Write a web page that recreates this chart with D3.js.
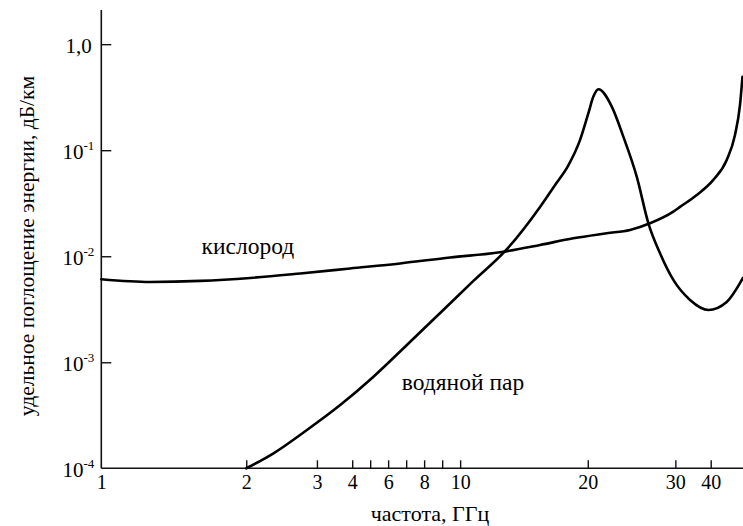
<!DOCTYPE html>
<html><head><meta charset="utf-8">
<script src="https://cdn.jsdelivr.net/npm/d3@7"></script>
<style>
body{margin:0;background:#fff}
svg{display:block}
text{font-family:"Liberation Serif","DejaVu Serif",serif;fill:#000}
</style>
</head><body><svg id="c" width="743" height="526"></svg>
<script>
// ---- data ----
const xTickValues = [1, 2, 3, 4, 5, 6, 7, 8, 9, 10, 20, 30, 40];
const xTickLabels = ["1", "2", "3", "4", "", "6", "", "8", "", "10", "20", "30", "40"];
const yTickValues = [1e-4, 1e-3, 1e-2, 1e-1, 1];
const yTickBase = ["10", "10", "10", "10", "1,0"];
const yTickExp = ["-4", "-3", "-2", "-1", ""];

const oxygenFreq  = [1.0, 1.338, 1.683, 2.057, 2.764, 3.943, 6.667, 9.444, 13.13, 16.26, 18.87, 22.17, 24.83, 27.11, 29.77, 31.33, 36.05, 40.73, 44.52, 46.86, 48.28, 48.98];
const oxygenValue = [0.00607, 0.00572, 0.00585, 0.00624, 0.00688, 0.00767, 0.00855, 0.00974, 0.01091, 0.01278, 0.01478, 0.01648, 0.0177, 0.02047, 0.02635, 0.02917, 0.03784, 0.05246, 0.0809, 0.1393, 0.2673, 0.4914];

const vaporFreq  = [2.0, 2.386, 2.859, 3.66, 5.183, 7.039, 8.889, 11.04, 13.68, 16.26, 17.44, 18.457, 19.397, 20.07, 20.64, 21.21, 22.74, 24.06, 25.59, 26.92, 28.25, 29.77, 34.15, 39.32, 44.52, 49.12];
const vaporValue = [1e-4, 1.385e-4, 2.298e-4, 3.95e-4, 7.31e-4, 1.455e-3, 2.917e-3, 5.85e-3, 0.01172, 0.02917, 0.04706, 0.0711, 0.125, 0.2234, 0.3204, 0.3762, 0.2578, 0.1343, 0.0564, 0.02046, 0.01066, 0.005975, 0.00387, 0.003114, 0.003706, 0.00624];

const seriesLabels = ["кислород", "водяной пар"];
const seriesLabelAt = [[1.692, 0.0105], [6.76, 5.48e-4]]; // [frequency, value] at label start (baseline)
const xTitle = "частота, ГГц";
const yTitle = "удельное поглощение энергии, дБ/км";

// ---- layout ----
const FONT = '"Liberation Serif", "DejaVu Serif", serif';
const svg = d3.select("#c");
const mLeft = 101.3, mTop = 10, mBottom = 468.3, mRight = 743;
const W = mRight - mLeft;
// hand-drawn (non-uniform) frequency axis calibration, fraction of axis length per tick
const xStops = [0, 0.2259, 0.3360, 0.3910, 0.4190, 0.4470, 0.4751, 0.5031, 0.5312, 0.5592, 0.7581, 0.8946, 0.9497];

const x = d3.scaleLinear().domain(xTickValues).range(xStops.map(s => mLeft + s * W));
const y = d3.scaleLog().domain([1e-4, 2.1]).range([mBottom, mTop]);

svg.append("rect").attr("width", 743).attr("height", 526).attr("fill", "#fff");

// x axis
const gx = svg.append("g").attr("transform", `translate(0,${mBottom})`)
  .call(d3.axisBottom(x).tickValues(xTickValues).tickSize(-8).tickSizeOuter(0).tickPadding(7)
    .tickFormat((d, i) => xTickLabels[i]));
gx.select(".domain").remove();
gx.selectAll(".tick line").attr("stroke", "#111").attr("stroke-width", 1.4);
gx.selectAll(".tick text").style("font-family", FONT).style("font-size", "20px");
gx.selectAll(".tick").filter(d => d === 1).select("line").remove();

// y axis
const gy = svg.append("g").attr("transform", `translate(${mLeft},0)`)
  .call(d3.axisLeft(y).tickValues(yTickValues).tickSize(-10).tickSizeOuter(0).tickFormat(""));
gy.select(".domain").remove();
gy.selectAll(".tick line").attr("stroke", "#111").attr("stroke-width", 1.4);
gy.selectAll(".tick").filter(d => d === 1e-4).select("line").remove();
gy.selectAll(".tick").each(function (d, i) {
  const t = d3.select(this).append("text")
    .attr("x", yTickExp[i] ? -7 : -9.5).attr("y", 8).attr("text-anchor", "end")
    .style("font-family", FONT).style("font-size", "21px");
  t.append("tspan").text(yTickBase[i]);
  if (yTickExp[i]) t.append("tspan").style("font-size", "13px").attr("dy", -9).text(yTickExp[i]);
});

// axis lines
svg.append("line").attr("x1", mLeft).attr("x2", mLeft).attr("y1", mTop).attr("y2", mBottom)
  .attr("stroke", "#111").attr("stroke-width", 1.6);
svg.append("line").attr("x1", mLeft).attr("x2", mRight).attr("y1", mBottom).attr("y2", mBottom)
  .attr("stroke", "#111").attr("stroke-width", 1.6);

// curves
const line = d3.line().x(d => x(d[0])).y(d => y(d[1])).curve(d3.curveMonotoneX);
const oxy = oxygenFreq.map((f, i) => [f, oxygenValue[i]]);
const vap = vaporFreq.map((f, i) => [f, vaporValue[i]]);
[oxy, vap].forEach(s => svg.append("path").datum(s).attr("d", line)
  .attr("fill", "none").attr("stroke", "#000").attr("stroke-width", 2.6)
  .attr("stroke-linejoin", "round").attr("stroke-linecap", "round"));

// curve labels
seriesLabels.forEach((lab, i) => {
  svg.append("text").attr("x", x(seriesLabelAt[i][0])).attr("y", y(seriesLabelAt[i][1]))
    .style("font-family", FONT).style("font-size", "23.5px").text(lab);
});

// titles
svg.append("text").attr("x", 430).attr("y", 521).attr("text-anchor", "middle")
  .style("font-family", FONT).style("font-size", "22px").text(xTitle);
svg.append("text").attr("transform", "rotate(-90)").attr("x", -246).attr("y", 34)
  .attr("text-anchor", "middle").style("font-family", FONT).style("font-size", "21.5px").text(yTitle);
</script>
</body></html>
